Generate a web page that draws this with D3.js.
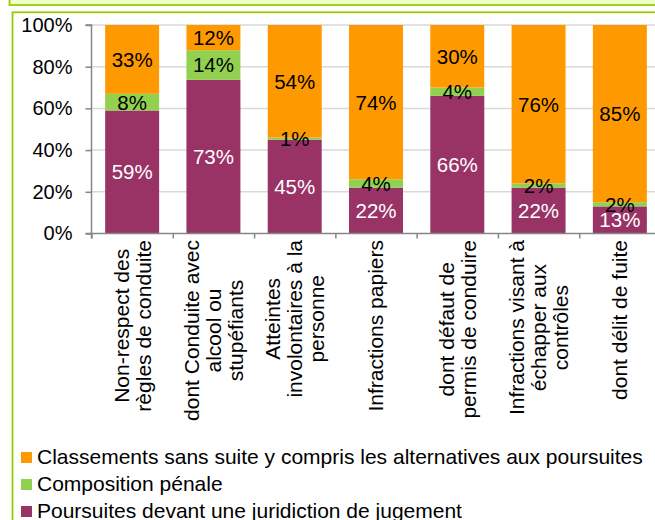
<!DOCTYPE html>
<html>
<head>
<meta charset="utf-8">
<script src="https://cdn.jsdelivr.net/npm/d3@7"></script>
<style>
  html, body { margin: 0; padding: 0; background: #ffffff; }
  svg { display: block; font-family: "Liberation Sans", Arial, sans-serif; }
</style>
</head>
<body>
<svg id="chart" width="655" height="520"></svg>
<script>
// ---- Data ----
const categories = [
  "Non-respect des règles de conduite",
  "dont Conduite avec alcool ou stupéfiants",
  "Atteintes involontaires à la personne",
  "Infractions papiers",
  "dont défaut de permis de conduire",
  "Infractions visant à échapper aux contrôles",
  "dont délit de fuite"
];
const categoryLines = [
  ["Non-respect des", "règles de conduite"],
  ["dont Conduite avec", "alcool ou", "stupéfiants"],
  ["Atteintes", "involontaires à la", "personne"],
  ["Infractions papiers"],
  ["dont défaut de", "permis de conduire"],
  ["Infractions visant à", "échapper aux", "contrôles"],
  ["dont délit de fuite"]
];
const seriesNames = [
  "Poursuites devant une juridiction de jugement",
  "Composition pénale",
  "Classements sans suite y compris les alternatives aux poursuites"
];
const poursuites   = [59, 73, 45, 22, 66, 22, 13];
const composition  = [8, 14, 1, 4, 4, 2, 2];
const classements  = [33, 12, 54, 74, 30, 76, 85];
const yTickValues  = [0, 0.2, 0.4, 0.6, 0.8, 1.0];
const legendOrder  = [2, 1, 0];
const colors = ["#993366", "#92D050", "#FF9900"];
const labelColors = ["#ffffff", "#000000", "#000000"];

// ---- Build table ----
const table = categories.map((c, i) => ({
  cat: c,
  s0: poursuites[i],
  s1: composition[i],
  s2: classements[i]
}));
const keys = ["s0", "s1", "s2"];
const stacked = d3.stack().keys(keys).offset(d3.stackOffsetExpand)(table);

const svg = d3.select("#chart");
const font = '"Liberation Sans", Arial, sans-serif';

// ---- Frames ----
svg.append("rect").attr("x", 9.5).attr("y", -5).attr("width", 660).attr("height", 10)
  .attr("fill", "#EEFFCC").attr("stroke", "#99CC00").attr("stroke-width", 1.8);
svg.append("rect").attr("x", 12.5).attr("y", 12.3).attr("width", 660).attr("height", 540)
  .attr("fill", "#ffffff").attr("stroke", "#99CC00").attr("stroke-width", 1.8);

// ---- Scales ----
const plotLeft = 91.5, plotRight = 660.5, plotTop = 25, plotBottom = 233.5;
const x = d3.scaleBand().domain(categories).range([plotLeft, plotRight])
  .paddingInner(0.336).paddingOuter(0.168);
const xEdge = d3.scaleLinear().domain([0, categories.length]).range([plotLeft, plotRight]);
const y = d3.scaleLinear().domain([0, 1]).range([plotBottom, plotTop]);

// ---- Gridlines ----
svg.append("g").selectAll("line").data(yTickValues.slice(1)).join("line")
  .attr("x1", plotLeft).attr("x2", plotRight)
  .attr("y1", d => y(d)).attr("y2", d => y(d))
  .attr("stroke", "#D9D9D9").attr("stroke-width", 1.5);

// ---- Bars ----
const gBars = svg.append("g");
stacked.forEach((layer, li) => {
  gBars.selectAll(null).data(layer).join("rect")
    .attr("x", (d, i) => x(categories[i]))
    .attr("width", x.bandwidth())
    .attr("y", d => y(d[1]))
    .attr("height", d => y(d[0]) - y(d[1]))
    .attr("fill", colors[li]);
});

// ---- Data labels ----
const gLab = svg.append("g");
stacked.forEach((layer, li) => {
  const raw = [poursuites, composition, classements][li];
  gLab.selectAll(null).data(layer).join("text")
    .attr("x", (d, i) => x(categories[i]) + x.bandwidth() / 2)
    .attr("y", d => y((d[0] + d[1]) / 2))
    .attr("dy", "0.36em")
    .attr("text-anchor", "middle")
    .attr("font-family", font)
    .attr("font-size", 20.5)
    .attr("fill", labelColors[li])
    .text((d, i) => raw[i] + "%");
});

// ---- Y axis ----
const yAxis = svg.append("g").attr("transform", `translate(${plotLeft},0)`)
  .call(d3.axisLeft(y).tickValues(yTickValues).tickFormat(d3.format(".0%")).tickSize(6).tickPadding(13));
yAxis.selectAll("path, line").attr("stroke", "#868686").attr("stroke-width", 1.5);
yAxis.select("path").attr("d", `M-6,${plotTop}H0V${plotBottom}H-6`);
yAxis.selectAll("text").attr("font-family", font).attr("font-size", 20).attr("fill", "#000");

// ---- X axis ----
const xAxis = svg.append("g").attr("transform", `translate(0,${plotBottom})`)
  .call(d3.axisBottom(xEdge).tickValues(d3.range(categories.length + 1)).tickFormat("").tickSize(5));
xAxis.selectAll("path, line").attr("stroke", "#868686").attr("stroke-width", 1.5);
xAxis.select("path").attr("d", `M${plotLeft},5V0H${plotRight}`);

// ---- X category labels (rotated) ----
const lineGap = 22;
const labelTop = 240;
const gX = svg.append("g");
categoryLines.forEach((lines, ci) => {
  const cx = x(categories[ci]) + x.bandwidth() / 2;
  const n = lines.length;
  const texts = lines.map((ln, li) => gX.append("text")
    .attr("font-family", font).attr("font-size", 21).attr("fill", "#000")
    .attr("text-anchor", "middle").attr("dy", "0.35em").text(ln));
  const maxLen = d3.max(texts, t => t.node().getComputedTextLength());
  const cy = labelTop + maxLen / 2;
  texts.forEach((t, li) => {
    const lx = cx + (li - (n - 1) / 2) * lineGap;
    t.attr("transform", `translate(${lx},${cy}) rotate(-90)`);
  });
});

// ---- Legend ----
const gLeg = svg.append("g");
legendOrder.forEach((si, k) => {
  const top = 452 + k * 27;
  gLeg.append("rect").attr("x", 21).attr("y", top).attr("width", 11).attr("height", 11)
    .attr("fill", colors[si]);
  gLeg.append("text").attr("x", 37).attr("y", top + 11.5)
    .attr("font-family", font).attr("font-size", 21).attr("fill", "#000")
    .text(seriesNames[si]);
});
</script>
</body>
</html>
